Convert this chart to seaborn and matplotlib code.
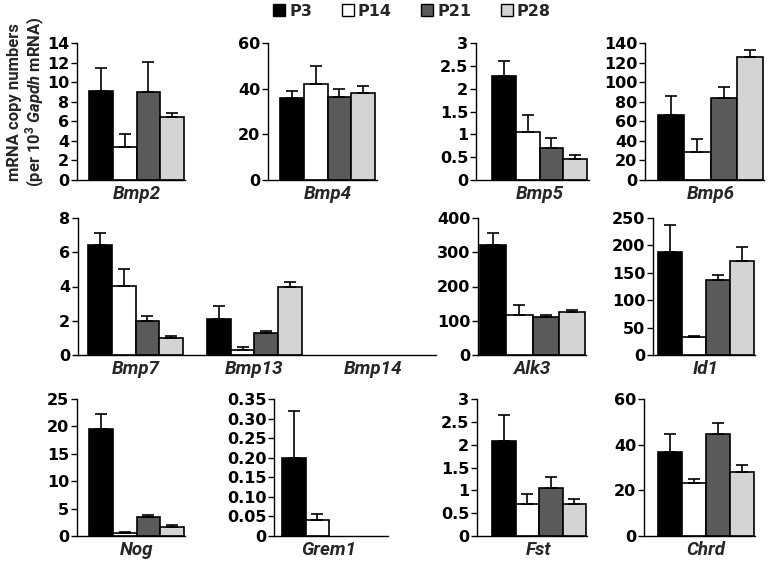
import numpy as np
import pandas as pd
import matplotlib
matplotlib.use("Agg")
import matplotlib.pyplot as plt
from matplotlib.container import BarContainer
import seaborn as sns

nan = np.nan

# ---------------- data ----------------
stages = ["P3", "P14", "P21", "P28"]
stage_colors = ["#000000", "#ffffff", "#5a5a5a", "#d4d4d4"]

bmp2 = [9.1, 3.4, 9.0, 6.45]
bmp2_err = [2.3, 1.3, 3.1, 0.35]
bmp4 = [35.8, 42.0, 36.4, 38.3]
bmp4_err = [3.2, 8.0, 3.6, 2.9]
bmp5 = [2.27, 1.06, 0.71, 0.46]
bmp5_err = [0.33, 0.37, 0.22, 0.08]
bmp6 = [66.8, 29.1, 84.2, 126.0]
bmp6_err = [19.1, 12.7, 10.6, 6.5]
bmp7 = [6.43, 4.03, 2.0, 1.02]
bmp7_err = [0.67, 0.97, 0.3, 0.1]
bmp13 = [2.1, 0.3, 1.28, 3.95]
bmp13_err = [0.75, 0.17, 0.14, 0.31]
bmp14 = [nan, nan, nan, nan]
bmp14_err = [nan, nan, nan, nan]
alk3 = [322, 117, 112, 125]
alk3_err = [34, 29, 4, 5]
id1 = [188, 32.3, 136.6, 172]
id1_err = [49.8, 2.4, 9.2, 25.5]
nog = [19.5, 0.5, 3.5, 1.65]
nog_err = [2.8, 0.23, 0.4, 0.3]
grem1 = [0.20, 0.04, nan, nan]
grem1_err = [0.12, 0.015, nan, nan]
fst = [2.08, 0.71, 1.06, 0.71]
fst_err = [0.57, 0.22, 0.24, 0.09]
chrd = [36.9, 23.0, 44.6, 28.1]
chrd_err = [7.7, 2.0, 4.7, 3.2]

ticks_bmp2 = [0, 2, 4, 6, 8, 10, 12, 14]
ticks_bmp4 = [0, 20, 40, 60]
ticks_half3 = [0, 0.5, 1, 1.5, 2, 2.5, 3]
labels_half3 = ["0", "0.5", "1", "1.5", "2", "2.5", "3"]
ticks_bmp6 = [0, 20, 40, 60, 80, 100, 120, 140]
ticks_bmp7 = [0, 2, 4, 6, 8]
ticks_alk3 = [0, 100, 200, 300, 400]
ticks_id1 = [0, 50, 100, 150, 200, 250]
ticks_nog = [0, 5, 10, 15, 20, 25]
ticks_grem1 = [0, 0.05, 0.10, 0.15, 0.20, 0.25, 0.30, 0.35]
labels_grem1 = ["0", "0.05", "0.10", "0.15", "0.20", "0.25", "0.30", "0.35"]
ticks_chrd = [0, 20, 40, 60]

# ---------------- style ----------------
sns.set_style("ticks")
plt.rcParams["font.family"] = ["DejaVu Sans"]
plt.rcParams["font.weight"] = "bold"
plt.rcParams["mathtext.fontset"] = "custom"
plt.rcParams["mathtext.rm"] = "Roboto:bold"
plt.rcParams["mathtext.it"] = "Roboto:italic:bold"
plt.rcParams["mathtext.bf"] = "Roboto:bold"

W, H = 769, 563
fig = plt.figure(figsize=(W / 100, H / 100), dpi=100)
fig.patch.set_facecolor("white")

TICK_FS = 11.5
GENE_FS = 13.5
LABEL_FAMILY = ["Roboto", "DejaVu Sans"]


def panel(px, genes, vals, errs, yticks, ylabels=None, legend=False):
    spine, end, bl, br, lastidx, y0, yt = px
    ax = fig.add_axes([spine / W, 1 - y0 / H, (end - spine) / W, (y0 - yt) / H])
    rows = []
    for g, v, e in zip(genes, vals, errs):
        for s, vv, ee in zip(stages, v, e):
            rows.append(dict(gene=g, stage=s, value=vv, err=ee))
    df = pd.DataFrame(rows)
    sns.barplot(data=df, x="gene", y="value", hue="stage", order=genes,
                hue_order=stages, palette=stage_colors, saturation=1,
                edgecolor="black", linewidth=1.2, errorbar=None, width=0.8,
                ax=ax, legend=legend)
    # one-sided (upper) error bars
    bars = [b for c in list(ax.containers) if isinstance(c, BarContainer)
            for b in c if b is not None]
    for bar in bars:
        h = bar.get_height()
        if not np.isfinite(h):
            continue
        xc = bar.get_x() + bar.get_width() / 2
        j = int(round(xc))
        i = int(round((xc - j + 0.3) / 0.2))
        e = errs[j][i]
        if not np.isfinite(e):
            continue
        ax.errorbar(xc, h, yerr=[[0], [e]], fmt="none", ecolor="black",
                    elinewidth=1.2, capsize=4, capthick=1.2, zorder=1)
    unit = (br - bl) / (lastidx + 0.8)
    ax.set_xlim(-0.4 - (bl - spine) / unit, lastidx + 0.4 + (end - br) / unit)
    ax.set_ylim(0, yticks[-1])
    ax.set_yticks(yticks)
    if ylabels is not None:
        ax.set_yticklabels(ylabels)
    ax.set_xlabel("")
    ax.set_ylabel("")
    for s in ["top", "right"]:
        ax.spines[s].set_visible(False)
    for s in ["left", "bottom"]:
        ax.spines[s].set_color("black")
        ax.spines[s].set_linewidth(1.0)
    ax.tick_params(axis="y", length=4, width=1.0, pad=1.5, labelsize=TICK_FS,
                   colors="black")
    ax.tick_params(axis="x", length=0, pad=3.5, labelsize=GENE_FS)
    for lbl in ax.get_xticklabels():
        lbl.set_family(LABEL_FAMILY)
        lbl.set_fontstyle("italic")
        lbl.set_fontweight("bold")
    for lbl in ax.get_yticklabels():
        lbl.set_fontweight("bold")
    ax.set_facecolor("white")
    return ax


# pixel layout: spine x, baseline end x, first bar left, last bar right,
#               index of group ending at 'last bar right', y of 0, y of top
R1 = (180, 43)
R2 = (355, 218)
R3 = (536, 399)

ax0 = panel((77, 185, 89, 184, 0) + R1, ["Bmp2"], [bmp2], [bmp2_err], ticks_bmp2,
            legend=True)
panel((268, 377, 280, 375, 0) + R1, ["Bmp4"], [bmp4], [bmp4_err], ticks_bmp4)
panel((476, 589, 492, 587, 0) + R1, ["Bmp5"], [bmp5], [bmp5_err], ticks_half3,
      labels_half3)
panel((645, 764, 658, 763, 0) + R1, ["Bmp6"], [bmp6], [bmp6_err], ticks_bmp6)

panel((78, 436, 88, 302, 1) + R2, ["Bmp7", "Bmp13", "Bmp14"],
      [bmp7, bmp13, bmp14], [bmp7_err, bmp13_err, bmp14_err], ticks_bmp7)
panel((478, 586, 480, 585, 0) + R2, ["Alk3"], [alk3], [alk3_err], ticks_alk3)
panel((653, 755, 658, 754, 0) + R2, ["Id1"], [id1], [id1_err], ticks_id1)

panel((77, 185, 89, 184, 0) + R3, ["Nog"], [nog], [nog_err], ticks_nog)
panel((274, 388, 282, 376, 0) + R3, ["Grem1"], [grem1], [grem1_err], ticks_grem1,
      labels_grem1)
panel((477, 587, 492, 586, 0) + R3, ["Fst"], [fst], [fst_err], ticks_half3,
      labels_half3)
panel((644, 755, 658, 754, 0) + R3, ["Chrd"], [chrd], [chrd_err], ticks_chrd)

# legend at top
sns.move_legend(ax0, "center", bbox_to_anchor=(412 / W, 1 - 11 / H),
                bbox_transform=fig.transFigure, ncol=4, frameon=False,
                title=None, fontsize=TICK_FS, handlelength=0.75,
                handleheight=0.75, handletextpad=0.25, columnspacing=1.85)
leg = ax0.get_legend()
for t in leg.get_texts():
    t.set_fontweight("bold")
for hnd in leg.legend_handles:
    hnd.set_edgecolor("black")
    hnd.set_linewidth(1.0)

# y label
fig.text(27 / W, 1 - 102 / H,
         "mRNA copy numbers\n(per 10$^3$ $\\mathit{Gapdh}$ mRNA)",
         rotation=90, ha="center", va="center", multialignment="center",
         fontsize=12, fontweight="bold", linespacing=1.1,
         family=LABEL_FAMILY)

fig.savefig("out.png", dpi=100, facecolor="white")
